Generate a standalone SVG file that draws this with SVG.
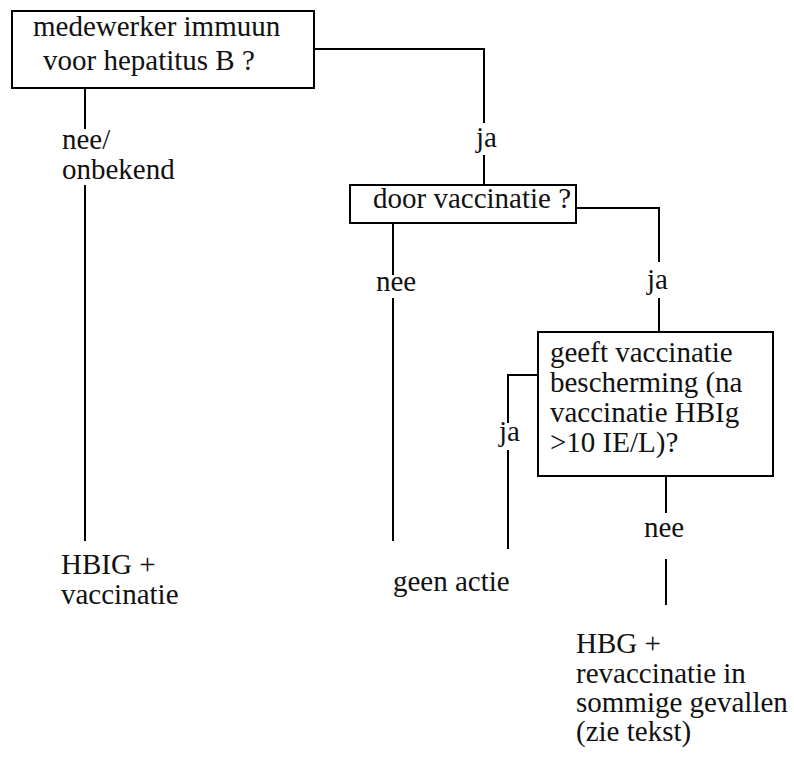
<svg xmlns="http://www.w3.org/2000/svg" width="794" height="757" viewBox="0 0 794 757">
<style>
.box{fill:#fff;stroke:#000;stroke-width:2}
.ln{fill:none;stroke:#000;stroke-width:2}
</style>
<rect width="794" height="757" fill="#fff"/>
<g font-family="Liberation Serif, Times New Roman, serif" font-size="29" fill="#111">
<g id="connectors">
<path class="ln" d="M314,49 H484 V123 M484,155 V185"/>
<path class="ln" d="M85,88 V129 M85,185 V541"/>
<path class="ln" d="M576,208 H659 V262 M659,298 V332"/>
<path class="ln" d="M393,223 V275 M393,298 V541"/>
<path class="ln" d="M538,375 H508 V423 M508,450 V549"/>
<path class="ln" d="M666,476 V513 M666,559 V605"/>
<text x="476" y="147">ja</text>
<text x="62" y="149">nee/</text>
<text x="62" y="179">onbekend</text>
<text x="376" y="291">nee</text>
<text x="647" y="289">ja</text>
<text x="499" y="441">ja</text>
<text x="644" y="537">nee</text>
</g>
<g id="n1">
<rect class="box" x="12" y="11" width="302" height="77"/>
<text x="33" y="36">medewerker immuun</text>
<text x="43" y="70">voor hepatitus B ?</text>
</g>
<g id="n2">
<rect class="box" x="350" y="185" width="226" height="38"/>
<text x="373" y="208">door vaccinatie ?</text>
</g>
<g id="n3">
<rect class="box" x="538" y="332" width="235" height="144"/>
<text x="550" y="362">geeft vaccinatie</text>
<text x="550" y="392">bescherming (na</text>
<text x="550" y="422">vaccinatie HBIg</text>
<text x="550" y="452">&gt;10 IE/L)?</text>
</g>
<g id="n4">
<text x="61" y="574">HBIG +</text>
<text x="61" y="604">vaccinatie</text>
</g>
<g id="n5">
<text x="393" y="591">geen actie</text>
</g>
<g id="n6">
<text x="576" y="653">HBG +</text>
<text x="576" y="683">revaccinatie in</text>
<text x="576" y="712">sommige gevallen</text>
<text x="576" y="741">(zie tekst)</text>
</g>
</g>
</svg>
